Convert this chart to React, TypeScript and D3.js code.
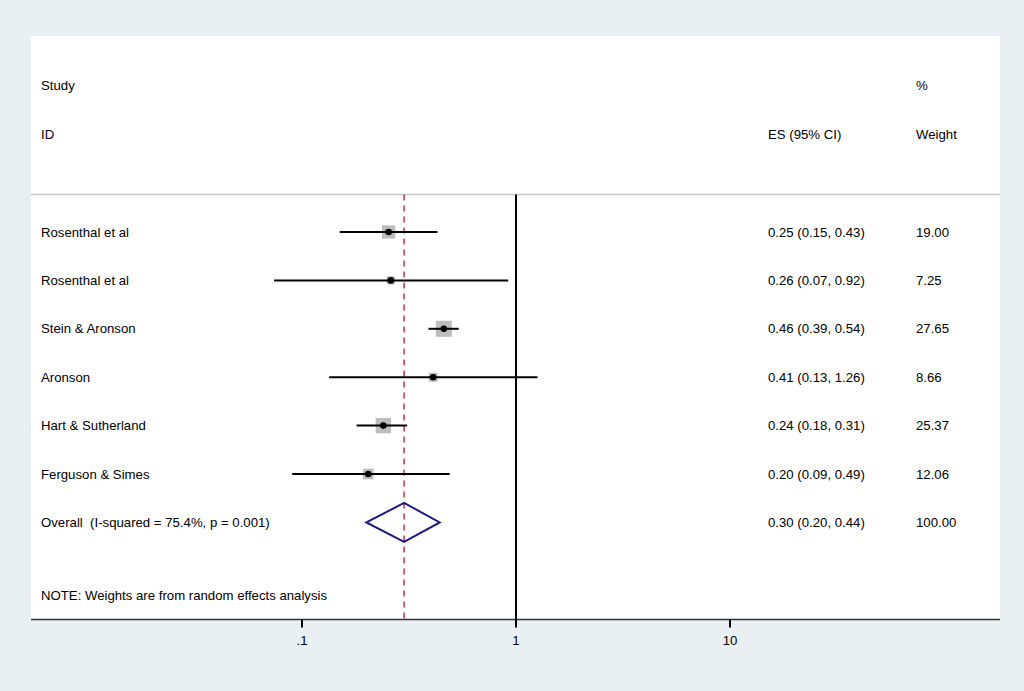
import React from "react";
import * as d3 from "d3";

const studies = ["Rosenthal et al", "Rosenthal et al", "Stein & Aronson", "Aronson", "Hart & Sutherland", "Ferguson & Simes"];
const es = [0.254, 0.26, 0.46, 0.41, 0.24, 0.204];
const lower = [0.15, 0.074, 0.39, 0.134, 0.18, 0.09];
const upper = [0.43, 0.92, 0.54, 1.26, 0.31, 0.49];
const weights = [19.0, 7.25, 27.65, 8.66, 25.37, 12.06];
const overall = { label: "Overall  (I-squared = 75.4%, p = 0.001)", es: 0.3, lower: 0.2, upper: 0.44, weight: 100.0 };
const tickValues = [0.1, 1, 10];
const tickLabels = [".1", "1", "10"];
const note = "NOTE: Weights are from random effects analysis";

const W = 1024;
const H = 691;
const FONT = "'Liberation Sans', Arial, Helvetica, sans-serif";
const FS = 13.2;

export default function App() {
  const x = d3.scaleLog().domain([0.1, 10]).range([302, 730]);
  const rowIds = [...studies.map((_, i) => "s" + i), "overall"];
  const y = d3.scalePoint<string>().domain(rowIds).range([232, 522.4]);
  const boxSide = (w: number) => 3.05 * Math.sqrt(w);
  const fmt = (v: number) => v.toFixed(2);
  const plotTop = 194.5;
  const axisY = 619.5;
  const oy = y("overall")!;
  const dh = 19.5;

  return (
    <svg width={W} height={H} style={{ position: "absolute", left: 0, top: 0, whiteSpace: "pre" }} fontFamily={FONT}>
      <rect x={0} y={0} width={W} height={H} fill="#e9f0f3" />
      <rect x={31} y={36} width={969} height={axisY - 36} fill="#ffffff" />
      <line x1={31} x2={1000} y1={plotTop} y2={plotTop} stroke="#c6c6c6" strokeWidth={1.5} />

      {/* headers */}
      <text x={41} y={90} fontSize={FS} fill="#000">Study</text>
      <text x={41} y={139} fontSize={FS} fill="#000">ID</text>
      <text x={768} y={139} fontSize={FS} fill="#000">ES (95% CI)</text>
      <text x={916} y={90} fontSize={FS} fill="#000">%</text>
      <text x={916} y={139} fontSize={FS} fill="#000">Weight</text>

      {/* null line */}
      <line x1={x(1)} x2={x(1)} y1={plotTop} y2={axisY} stroke="#000" strokeWidth={2} />
      {/* overall dashed line */}
      <line x1={x(overall.es)} x2={x(overall.es)} y1={plotTop} y2={axisY} stroke="#b8394a" strokeWidth={1.5} strokeDasharray="6,5" />

      {studies.map((s, i) => {
        const cy = y("s" + i)!;
        const side = boxSide(weights[i]);
        return (
          <g key={i}>
            <rect x={x(es[i]) - side / 2} y={cy - side / 2} width={side} height={side} fill="#bdbdbd" />
            <line x1={x(lower[i])} x2={x(upper[i])} y1={cy} y2={cy} stroke="#000" strokeWidth={2} />
            <circle cx={x(es[i])} cy={cy} r={3.3} fill="#000" />
            <text x={41} y={cy + 4.5} fontSize={FS} fill="#000">{s}</text>
            <text x={768} y={cy + 4.5} fontSize={FS} fill="#000">
              {`${fmt(es[i])} (${fmt(lower[i])}, ${fmt(upper[i])})`}
            </text>
            <text x={916} y={cy + 4.5} fontSize={FS} fill="#000">{fmt(weights[i])}</text>
          </g>
        );
      })}

      {/* overall diamond */}
      <path
        d={`M${x(overall.lower)},${oy} L${x(overall.es)},${oy - dh} L${x(overall.upper)},${oy} L${x(overall.es)},${oy + dh} Z`}
        fill="none"
        stroke="#1b1b80"
        strokeWidth={2}
      />
      <text x={41} y={oy + 4.5} fontSize={FS} fill="#000" style={{ whiteSpace: "pre" }}>{overall.label}</text>
      <text x={768} y={oy + 4.5} fontSize={FS} fill="#000">
        {`${fmt(overall.es)} (${fmt(overall.lower)}, ${fmt(overall.upper)})`}
      </text>
      <text x={916} y={oy + 4.5} fontSize={FS} fill="#000">{fmt(overall.weight)}</text>

      <text x={41} y={600} fontSize={FS} fill="#000">{note}</text>

      {/* axis */}
      <line x1={31} x2={1000} y1={axisY} y2={axisY} stroke="#333" strokeWidth={1.5} />
      {tickValues.map((t, i) => (
        <g key={t}>
          <line x1={x(t)} x2={x(t)} y1={axisY} y2={axisY + 8} stroke="#000" strokeWidth={2} />
          <text x={x(t)} y={645} fontSize={FS} textAnchor="middle" fill="#000">{tickLabels[i]}</text>
        </g>
      ))}
    </svg>
  );
}
